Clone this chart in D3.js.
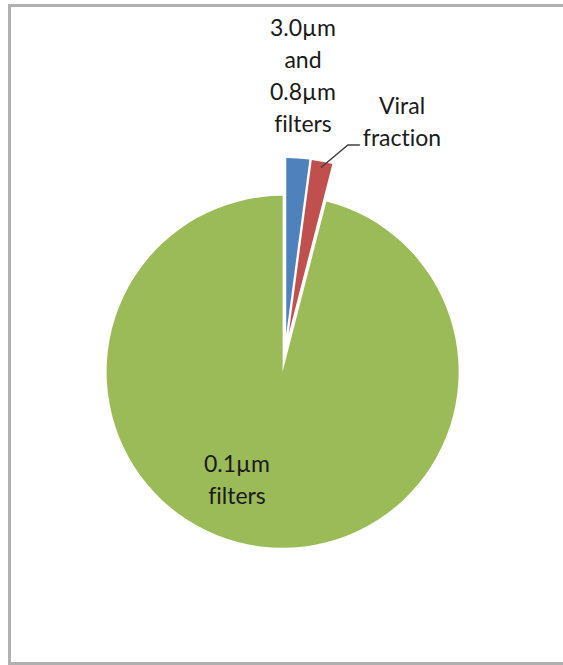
<!DOCTYPE html>
<html>
<head>
<meta charset="utf-8">
<script src="https://cdn.jsdelivr.net/npm/d3@7"></script>
<style>
  body { margin: 0; background: #fff; }
  svg text { font-family: Lato, "Open Sans", sans-serif; font-size: 23px; fill: #1a1a1a; font-variant-ligatures: none; }
</style>
</head>
<body>
<div id="chart"></div>
<script>
// data
const categories = ["3.0µm and 0.8µm filters", "Viral fraction", "0.1µm filters"];
const values = [2.1, 1.9, 96.0];
const labelLines = [["3.0µm", "and", "0.8µm", "filters"], ["Viral", "fraction"], ["0.1µm", "filters"]];
const colors = ["#4F81BD", "#C0504D", "#9BBB59"];

const width = 563, height = 665;
const cx = 285, cy = 353, radius = 176;
const explode = 19;   // all slices pulled out a little, like the Excel pie
const lineGap = 32;
// label block centres, relative to the pie centre
const labelOffset = [[18, -278], [117, -232], [-48, 126]];

const svg = d3.select("#chart").append("svg")
    .attr("width", width)
    .attr("height", height);

// chart frame
svg.append("rect")
    .attr("x", 9.5).attr("y", 5.5)
    .attr("width", 600).attr("height", 658)
    .attr("fill", "none")
    .attr("stroke", "#b0b0b0")
    .attr("stroke-width", 3);

const pie = d3.pie().sort(null).value(d => d.value);
const arcs = pie(categories.map((c, i) => ({ name: c, value: values[i], idx: i })));
const arc = d3.arc().innerRadius(0).outerRadius(radius);

function shift(d, dist) {
    const a = (d.startAngle + d.endAngle) / 2;
    return [Math.sin(a) * dist, -Math.cos(a) * dist];
}

const g = svg.append("g").attr("transform", `translate(${cx},${cy})`);

g.selectAll("path")
    .data(arcs)
    .join("path")
    .attr("d", arc)
    .attr("fill", d => colors[d.data.idx])
    .attr("transform", d => `translate(${shift(d, explode)})`);

// labels
const labels = g.selectAll("g.lbl")
    .data(arcs)
    .join("g")
    .attr("class", "lbl")
    .attr("transform", d => `translate(${labelOffset[d.data.idx]})`);

labels.each(function(d) {
    const lines = labelLines[d.data.idx];
    d3.select(this).selectAll("text")
        .data(lines)
        .join("text")
        .attr("text-anchor", "middle")
        .attr("dominant-baseline", "central")
        .attr("y", (t, i) => (i - (lines.length - 1) / 2) * lineGap)
        .text(t => t);
});

// leader line for the viral fraction
const viral = arcs[1];
const vText = labels.filter(d => d.data.idx === 1).selectAll("text").nodes()[1];
const tw = vText.getComputedTextLength();
const off = labelOffset[1];
const startX = off[0] - tw / 2 - 3, startY = off[1] + lineGap / 2 + 8;
const sh = shift(viral, explode);
const tip = shift(viral, radius - 6);
g.append("path")
    .attr("d", d3.line()([
        [startX, startY],
        [startX - 12, startY],
        [sh[0] + tip[0], sh[1] + tip[1]]
    ]))
    .attr("fill", "none")
    .attr("stroke", "#404040")
    .attr("stroke-width", 1.5);
</script>
</body>
</html>
